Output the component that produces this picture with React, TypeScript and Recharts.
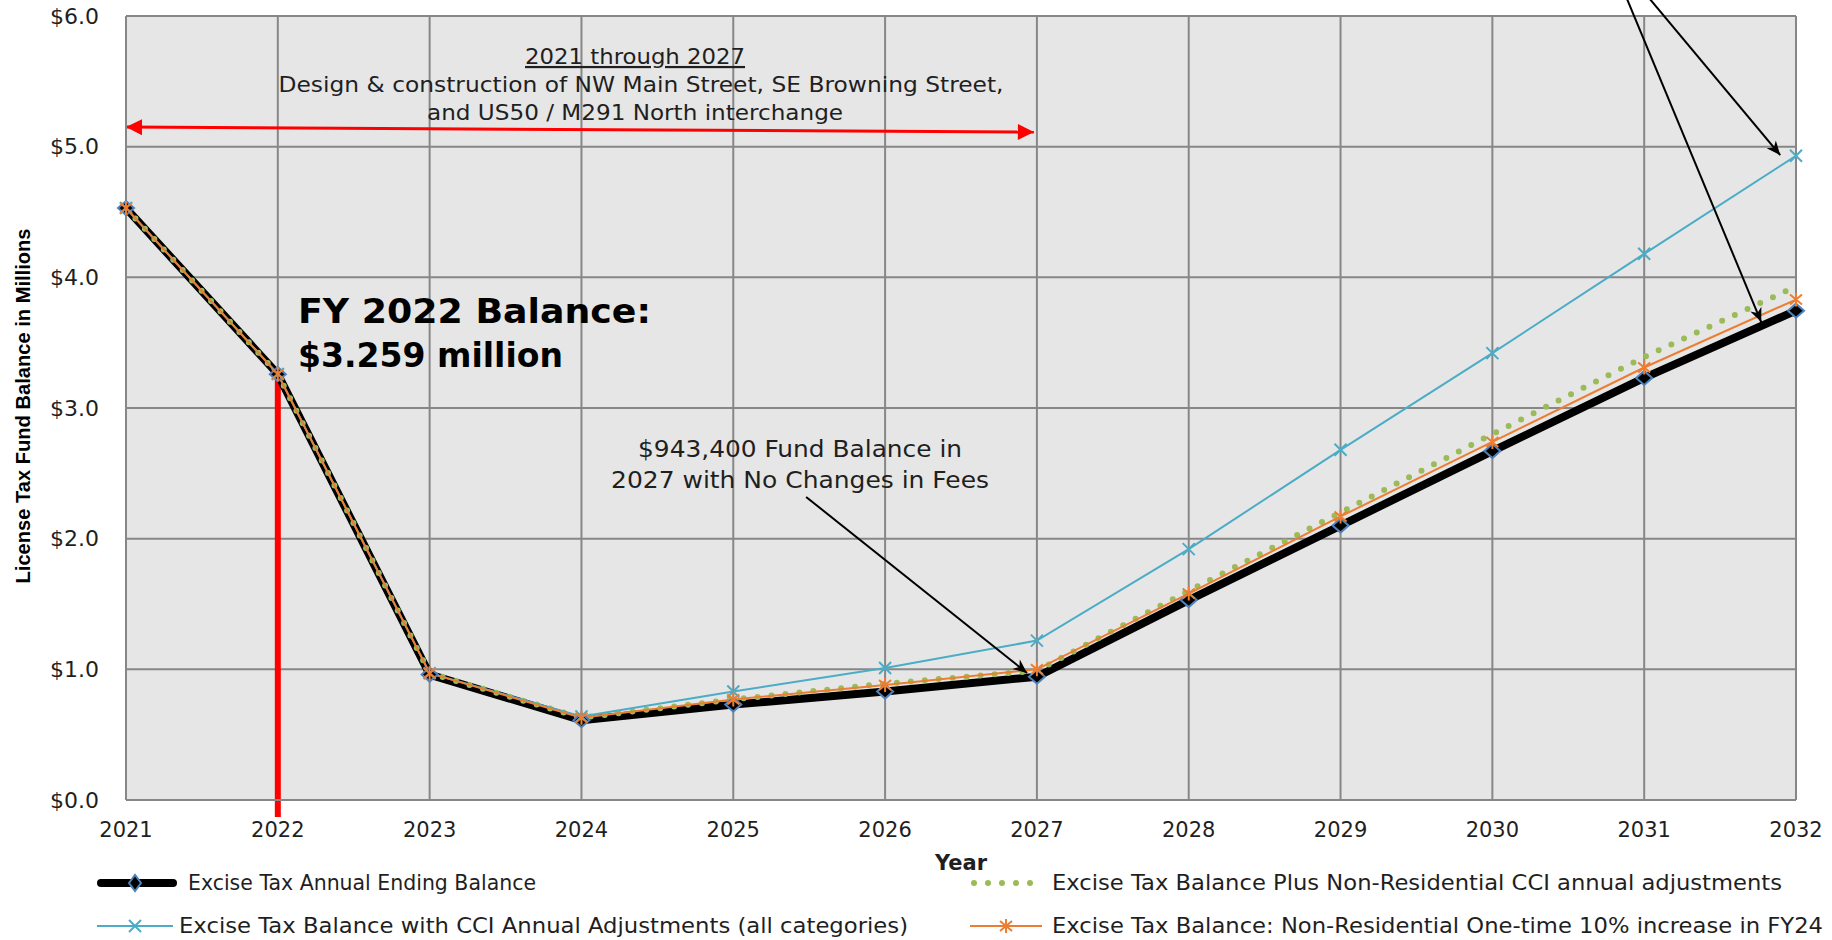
import React from 'react';
import {
  LineChart,
  Line,
  XAxis,
  YAxis,
  CartesianGrid,
  ReferenceLine,
  ReferenceDot,
  Label,
} from 'recharts';

// chart values
const years = [2021, 2022, 2023, 2024, 2025, 2026, 2027, 2028, 2029, 2030, 2031, 2032];
const endingBalance = [4.53, 3.259, 0.96, 0.61, 0.73, 0.83, 0.9434, 1.53, 2.1, 2.67, 3.23, 3.745];
const nonResCci = [4.53, 3.26, 0.97, 0.63, 0.77, 0.89, 0.99, 1.6, 2.2, 2.8, 3.39, 3.93];
const cciAll = [4.53, 3.26, 0.97, 0.64, 0.83, 1.01, 1.22, 1.92, 2.68, 3.42, 4.18, 4.93];
const oneTime10 = [4.53, 3.26, 0.97, 0.63, 0.77, 0.88, 1.0, 1.58, 2.17, 2.74, 3.31, 3.83];
const yTicks = [0, 1, 2, 3, 4, 5, 6];

const data = years.map((year, i) => ({
  year,
  ending: endingBalance[i],
  nonRes: nonResCci[i],
  cci: cciAll[i],
  oneTime: oneTime10[i],
}));

const FONT = '"DejaVu Sans", Verdana, sans-serif';
const TEXT = '#1f1f1f';
const GRID = '#878787';
const BLUE = '#4f81bd';
const CYAN = '#4bacc6';
const GREEN = '#9bbb59';
const ORANGE = '#ed7d31';

const diamondPath = (cx: number, cy: number, w: number, h: number) =>
  `M${cx - w},${cy} L${cx},${cy - h} L${cx + w},${cy} L${cx},${cy + h} Z`;

const renderDiamond = (p: any) => (
  <path key={`d-${p.index}`} d={diamondPath(p.cx, p.cy, 8, 7)} fill="#000" stroke={BLUE} strokeWidth={2} />
);

const renderCross = (p: any) => (
  <path
    key={`x-${p.index}`}
    d={`M${p.cx - 6},${p.cy - 6} L${p.cx + 6},${p.cy + 6} M${p.cx - 6},${p.cy + 6} L${p.cx + 6},${p.cy - 6}`}
    stroke={CYAN}
    strokeWidth={2}
  />
);

const renderStar = (p: any) => (
  <path
    key={`s-${p.index}`}
    d={`M${p.cx - 6},${p.cy - 5} L${p.cx + 6},${p.cy + 5} M${p.cx - 6},${p.cy + 5} L${p.cx + 6},${p.cy - 5} M${p.cx},${p.cy - 7} L${p.cx},${p.cy + 7}`}
    stroke={ORANGE}
    strokeWidth={2}
  />
);

// arrow heads drawn at the segment ends
const headPoints = (x: number, y: number, ang: number, len: number, half: number, notch: number) => {
  const c = Math.cos(ang);
  const s = Math.sin(ang);
  const pt = (a: number, b: number) => `${x + a * c - b * s},${y + a * s + b * c}`;
  return [pt(0, 0), pt(-len, half), pt(-len * notch, 0), pt(-len, -half)].join(' ');
};

const arrowShape = (color: string, width: number, both: boolean, len: number, half: number, notch: number) =>
  (p: any) => {
    const { x1, y1, x2, y2 } = p;
    const ang = Math.atan2(y2 - y1, x2 - x1);
    return (
      <g>
        <line x1={x1} y1={y1} x2={x2} y2={y2} stroke={color} strokeWidth={width} />
        <polygon points={headPoints(x2, y2, ang, len, half, notch)} fill={color} />
        {both && <polygon points={headPoints(x1, y1, ang + Math.PI, len, half, notch)} fill={color} />}
      </g>
    );
  };

// text squeezed/stretched to the width it has in the reference
const FitText = ({ x, y, w, size, anchor = 'start', weight = 'normal', fill = TEXT, underline = false, children }: any) => (
  <text
    x={x}
    y={y}
    textAnchor={anchor}
    fill={fill}
    fontSize={size}
    fontWeight={weight}
    fontFamily={FONT}
    textLength={w}
    lengthAdjust="spacingAndGlyphs"
    style={underline ? { textDecoration: 'underline' } : undefined}
  >
    {children}
  </text>
);

const LegendItem = ({ icon, label, left, top, w, gap }: any) => (
  <div style={{ position: 'absolute', left, top, display: 'flex', alignItems: 'center', height: 24 }}>
    {icon}
    <svg width={w + 40} height={26} style={{ marginLeft: gap, overflow: 'visible' }}>
      <FitText x={0} y={20} w={w} size={21}>{label}</FitText>
    </svg>
  </div>
);

export default function App() {
  return (
    <div style={{ position: 'relative', width: 1832, height: 940, background: '#fff', overflow: 'hidden' }}>
      <style>{'body{margin:0}'}</style>
      <LineChart width={1832} height={940} data={data} margin={{ top: 16, right: 36, bottom: 70, left: 0 }}>
        <CartesianGrid fill="#e6e6e6" stroke={GRID} strokeWidth={2} />
        <XAxis
          dataKey="year"
          type="number"
          domain={[2021, 2032]}
          ticks={years}
          tickLine={false}
          axisLine={{ stroke: GRID, strokeWidth: 2 }}
          tick={{ fill: TEXT, fontSize: 21, fontFamily: FONT }}
          tickMargin={16}
          height={70}
        >
          <Label value="Year" position="insideBottom" offset={0} fill={TEXT} fontSize={21} fontWeight="bold" fontFamily={FONT} />
        </XAxis>
        <YAxis
          domain={[0, 6]}
          ticks={yTicks}
          tickLine={false}
          axisLine={{ stroke: GRID, strokeWidth: 2 }}
          tick={{ fill: TEXT, fontSize: 22, fontFamily: FONT }}
          tickFormatter={(v: number) => `$${v.toFixed(1)}`}
          tickMargin={21}
          width={126}
          label={{
            content: (p: any) => {
              const vb = p.viewBox;
              const cx = vb.x + 23;
              const cy = vb.y + vb.height / 2 - 2;
              return (
                <text
                  x={cx}
                  y={cy}
                  transform={`rotate(-90, ${cx}, ${cy})`}
                  textAnchor="middle"
                  dominantBaseline="central"
                  fill="#000"
                  fontSize={20}
                  fontWeight="bold"
                  fontFamily='"Liberation Sans", Arial, sans-serif'
                  textLength={355}
                  lengthAdjust="spacingAndGlyphs"
                >
                  License Tax Fund Balance in Millions
                </text>
              );
            },
          }}
        />

        {/* red construction period arrow and FY22 marker line */}
        <ReferenceLine
          segment={[{ x: 2021, y: 5.15 }, { x: 2026.98, y: 5.112 }]}
          ifOverflow="visible"
          shape={arrowShape('#ff0000', 3, true, 16, 8, 1)}
        />
        <ReferenceLine
          segment={[{ x: 2022, y: 3.259 }, { x: 2022, y: -0.13 }]}
          ifOverflow="visible"
          stroke="#ff0000"
          strokeWidth={6}
        />

        <Line dataKey="ending" stroke="#000" strokeWidth={8} strokeLinejoin="round" dot={renderDiamond} activeDot={false} isAnimationActive={false} />
        <Line dataKey="nonRes" stroke={GREEN} strokeWidth={6} strokeDasharray="0 14" strokeLinecap="round" dot={false} activeDot={false} isAnimationActive={false} />
        <Line dataKey="cci" stroke={CYAN} strokeWidth={2} dot={renderCross} activeDot={false} isAnimationActive={false} />
        <Line dataKey="oneTime" stroke={ORANGE} strokeWidth={2} dot={renderStar} activeDot={false} isAnimationActive={false} />

        {/* black call-out arrows */}
        <ReferenceLine
          segment={[{ x: 2025.48, y: 2.319 }, { x: 2026.935, y: 0.972 }]}
          ifOverflow="visible"
          shape={arrowShape('#000', 2, false, 14, 6, 0.7)}
        />
        <ReferenceLine
          segment={[{ x: 2030.862, y: 6.2 }, { x: 2031.771, y: 3.658 }]}
          ifOverflow="visible"
          shape={arrowShape('#000', 2, false, 14, 6, 0.7)}
        />
        <ReferenceLine
          segment={[{ x: 2030.987, y: 6.2 }, { x: 2031.896, y: 4.936 }]}
          ifOverflow="visible"
          shape={arrowShape('#000', 2, false, 14, 6, 0.7)}
        />

        {/* text annotations */}
        <ReferenceDot
          x={2024.353}
          y={5.633}
          r={0}
          ifOverflow="visible"
          shape={(p: any) => (
            <g>
              <FitText x={p.cx} y={p.cy} w={220} size={22} anchor="middle" underline>2021 through 2027</FitText>
              <FitText x={p.cx + 6} y={p.cy + 28} w={725} size={22} anchor="middle">
                Design &amp; construction of NW Main Street, SE Browning Street,
              </FitText>
              <FitText x={p.cx} y={p.cy + 56} w={416} size={22} anchor="middle">and US50 / M291 North interchange</FitText>
            </g>
          )}
        />
        <ReferenceDot
          x={2022.133}
          y={3.65}
          r={0}
          ifOverflow="visible"
          shape={(p: any) => (
            <g>
              <FitText x={p.cx} y={p.cy} w={353} size={33} weight="bold" fill="#000">FY 2022 Balance:</FitText>
              <FitText x={p.cx} y={p.cy + 44} w={265} size={33} weight="bold" fill="#000">$3.259 million</FitText>
            </g>
          )}
        />
        <ReferenceDot
          x={2025.44}
          y={2.625}
          r={0}
          ifOverflow="visible"
          shape={(p: any) => (
            <g>
              <FitText x={p.cx} y={p.cy} w={324} size={23} anchor="middle">$943,400 Fund Balance in</FitText>
              <FitText x={p.cx} y={p.cy + 31} w={378} size={23} anchor="middle">2027 with No Changes in Fees</FitText>
            </g>
          )}
        />
      </LineChart>

      <LegendItem
        left={97}
        top={871}
        w={348}
        gap={11}
        label="Excise Tax Annual Ending Balance"
        icon={
          <svg width={80} height={24}>
            <line x1={4} y1={12} x2={76} y2={12} stroke="#000" strokeWidth={8} strokeLinecap="round" />
            <path d={diamondPath(38, 12, 6, 8)} fill="#000" stroke={BLUE} strokeWidth={2} />
          </svg>
        }
      />
      <LegendItem
        left={97}
        top={914}
        w={729}
        gap={6}
        label="Excise Tax Balance with CCI Annual Adjustments (all categories)"
        icon={
          <svg width={76} height={24}>
            <line x1={0} y1={12} x2={76} y2={12} stroke={CYAN} strokeWidth={2} />
            <path d="M32,6 L44,18 M32,18 L44,6" stroke={CYAN} strokeWidth={2} />
          </svg>
        }
      />
      <LegendItem
        left={970}
        top={871}
        w={730}
        gap={10}
        label="Excise Tax Balance Plus Non-Residential CCI annual adjustments"
        icon={
          <svg width={72} height={24}>
            <line x1={4} y1={12} x2={70} y2={12} stroke={GREEN} strokeWidth={6} strokeDasharray="0 14" strokeLinecap="round" />
          </svg>
        }
      />
      <LegendItem
        left={970}
        top={914}
        w={771}
        gap={10}
        label="Excise Tax Balance: Non-Residential One-time 10% increase in FY24"
        icon={
          <svg width={72} height={24}>
            <line x1={0} y1={12} x2={72} y2={12} stroke={ORANGE} strokeWidth={2} />
            <path d="M30,7 L42,17 M30,17 L42,7 M36,5 L36,19" stroke={ORANGE} strokeWidth={2} />
          </svg>
        }
      />
    </div>
  );
}
